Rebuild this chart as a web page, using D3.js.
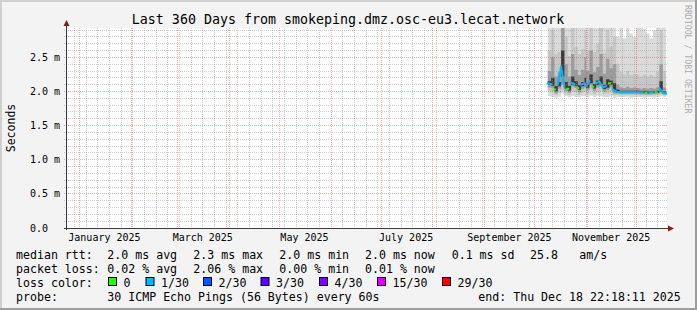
<!DOCTYPE html>
<html><head><meta charset="utf-8">
<script src="https://cdn.jsdelivr.net/npm/d3@7"></script>
<style>
html,body{margin:0;padding:0;background:#f3f3f3;}
svg{display:block;}
text{font-family:"DejaVu Sans Mono",monospace;white-space:pre;}
</style></head><body>
<svg id="chart" width="697" height="310"></svg>
<script>
// ---------- data ----------
const title = "Last 360 Days from smokeping.dmz.osc-eu3.lecat.network";
const endTime = "2025-12-18T22:18:11Z";
const spanDays = 360;
const firstStep = "2025-10-08T00:00:00Z";
const stepDays = 2;

const yTicks = [0, 0.5, 1.0, 1.5, 2.0, 2.5];
const yTickLabels = ["0.0", "0.5 m", "1.0 m", "1.5 m", "2.0 m", "2.5 m"];
const xLabelMonths = ["2025-01-01", "2025-03-01", "2025-05-01", "2025-07-01", "2025-09-01", "2025-11-01"];
const xTickLabels = ["January 2025", "March 2025", "May 2025", "July 2025", "September 2025", "November 2025"];

// median RTT (ms) per 2-day step
const median = [2.12,2.11,2.03,2.10,2.36, 2.07,2.04,2.13,2.11,2.05, 2.10,2.12,2.08,2.15,2.07, 2.12,2.14,2.06,2.08,2.12, 2.03,2.00,1.99,1.99,1.99, 1.99,1.99,1.99,1.985,1.985, 1.98,1.985,1.985,1.99,2.05, 1.98,1.97];
// smoke: ping distribution percentiles (ms)
const pingMin = [1.93,1.92,1.91,1.92,1.97, 1.93,1.92,1.93,1.92,1.92, 1.93,1.93,1.92,1.94,1.92, 1.93,1.93,1.92,1.92,1.93, 1.91,1.92,1.92,1.92,1.92, 1.91,1.92,1.92,1.92,1.91, 1.92,1.92,1.91,1.92,1.93, 1.92,1.92];
const q10 = [2.00,1.99,1.95,1.98,2.02, 1.96,1.95,2.00,1.99,1.95, 1.98,2.00,1.97,2.02,1.96, 1.99,2.01,1.96,1.97,2.00, 1.95,1.95,1.945,1.945,1.945, 1.945,1.945,1.945,1.94,1.94, 1.94,1.94,1.94,1.945,1.96, 1.94,1.94];
const q25 = [2.06,2.05,1.97,2.04,2.10, 2.01,1.98,2.07,2.05,1.99, 2.04,2.06,2.02,2.09,2.01, 2.06,2.08,2.00,2.02,2.06, 1.97,1.97,1.965,1.965,1.965, 1.965,1.965,1.965,1.96,1.96, 1.955,1.96,1.96,1.965,1.985, 1.96,1.955];
const q40 = [2.095,2.085,2.005,2.075,2.22, 2.045,2.015,2.10,2.085,2.025, 2.075,2.095,2.055,2.12,2.045, 2.095,2.11,2.035,2.055,2.095, 2.01,1.99,1.982,1.982,1.982, 1.982,1.982,1.982,1.977,1.977, 1.972,1.977,1.977,1.982,2.02, 1.972,1.962];
const q60 = [2.15,2.20,2.08,2.14,2.60, 2.14,2.08,2.22,2.15,2.09, 2.14,2.20,2.12,2.25,2.11, 2.16,2.22,2.10,2.18,2.16, 2.12,2.03,2.01,2.01,2.01, 2.01,2.01,2.01,2.005,2.005, 2.0,2.005,2.005,2.01,2.15, 2.0,1.99];
const q75 = [2.30,2.50,2.22,2.28,3.00, 2.40,2.22,2.55,2.32,2.24, 2.32,2.50,2.30,2.60,2.28, 2.36,2.55,2.26,2.48,2.34, 2.40,2.10,2.06,2.05,2.07, 2.05,2.06,2.05,2.04,2.05, 2.04,2.05,2.04,2.06,2.40, 2.06,2.04];
const q90 = [2.60,2.90,2.55,2.58,3.50, 2.80,2.52,2.95,2.65,2.55, 2.62,2.90,2.60,3.00,2.58, 2.70,2.95,2.56,2.90,2.66, 2.80,2.40,2.28,2.25,2.30, 2.24,2.26,2.25,2.22,2.25, 2.22,2.24,2.22,2.28,2.90, 2.30,2.25];
const pingMax = [3.5,3.5,3.5,3.5,3.5, 3.5,3.5,3.5,3.5,3.5, 3.5,3.5,3.5,3.5,3.5, 3.5,3.5,3.5,3.5,3.5, 3.5,2.80,2.95,2.78,3.0, 2.85,2.80,3.0,3.0,2.92, 2.85,2.78,2.9,3.0,3.5, 3.0,3.0];
// lost pings (out of 30) per step
const lossPings = [1,1,0,1,1, 1,0,1,1,0, 1,1,1,1,0, 1,1,1,1,0, 1,1,1,1,1, 1,1,1,1,1, 0,1,1,0,1, 1,1];

const lossLabels = ["0", "1/30", "2/30", "3/30", "4/30", "15/30", "29/30"];
const lossThresholds = [0, 1, 2, 3, 4, 15, 29];
const lossColors = ["#26ff00", "#00b8ff", "#0059ff", "#5e00ff", "#7e00ff", "#dd00ff", "#ff0000"];

const rttStats = ["2.0 ms avg", "2.3 ms max", "2.0 ms min", "2.0 ms now", "0.1 ms sd", "25.8", "am/s"];
const lossStats = ["0.02 % avg", "2.06 % max", "0.00 % min", "0.01 % now"];
const probeText = "30 ICMP Echo Pings (56 Bytes) every 60s";
const endText = "end: Thu Dec 18 22:18:11 2025";

// ---------- layout ----------
const W = 697, H = 310;
const X0 = 66, X1 = 666, Y0 = 228, Y1 = 28;
const yMax = 2.93;
const end = new Date(endTime);
const start = new Date(+end - spanDays * 86400000);
const t0 = new Date(firstStep);
const steps = d3.utcDay.every(stepDays).range(t0, d3.utcDay.offset(t0, stepDays * median.length)).slice(0, median.length);

const x = d3.scaleUtc().domain([start, end]).range([X0, X1]);
const y = d3.scaleLinear().domain([0, yMax]).range([Y0, Y1]);
const crisp = v => Math.floor(v) + 0.5;

const svg = d3.select("#chart");
svg.append("rect").attr("width", W).attr("height", H).attr("fill", "#f3f3f3");
svg.append("rect").attr("x", 0).attr("y", 0).attr("width", W).attr("height", 2).attr("fill", "#cfcfcf");
svg.append("rect").attr("x", 0).attr("y", 0).attr("width", 2).attr("height", H).attr("fill", "#cfcfcf");
svg.append("rect").attr("x", 0).attr("y", H - 2).attr("width", W).attr("height", 2).attr("fill", "#9e9e9e");
svg.append("rect").attr("x", W - 2).attr("y", 0).attr("width", 2).attr("height", H).attr("fill", "#9e9e9e");

// canvas
svg.append("rect").attr("x", X0).attr("y", Y1).attr("width", X1 - X0 + 1).attr("height", Y0 - Y1).attr("fill", "#ffffff");

svg.append("defs").append("clipPath").attr("id", "plotclip")
  .append("rect").attr("x", X0 + 1).attr("y", Y1).attr("width", X1 - X0).attr("height", Y0 - Y1);

const plot = svg.append("g").attr("clip-path", "url(#plotclip)");

// smoke bands
const bands = [
  {lo: pingMin, hi: pingMax, color: "#dadada"},
  {lo: q10, hi: q90, color: "#c6c6c6"},
  {lo: q25, hi: q75, color: "#9c9c9c"},
  {lo: q40, hi: q60, color: "#3c3c3c"}
];
bands.forEach(b => {
  const area = d3.area()
    .curve(d3.curveStepAfter)
    .x((d, i) => x(steps[i]))
    .y0((d, i) => y(b.lo[i]))
    .y1((d, i) => y(b.hi[i]));
  plot.append("path").datum(median).attr("d", area).attr("fill", b.color);
});

// median line coloured by loss
const cat = lossPings.map(l => { let c = 0; lossThresholds.forEach((t, j) => { if (l >= t) c = j; }); return c; });
const lineG = plot.append("g");
for (let i = 0; i < median.length - 1; i++) {
  if (cat[i] === cat[i + 1]) {
    lineG.append("line")
      .attr("x1", x(steps[i])).attr("y1", y(median[i]))
      .attr("x2", x(steps[i + 1])).attr("y2", y(median[i + 1]))
      .attr("stroke", lossColors[cat[i]]).attr("stroke-width", 2).attr("stroke-linecap", "square");
  }
}
median.forEach((m, i) => {
  const iso = (i === 0 || cat[i - 1] !== cat[i]) && (i === median.length - 1 || cat[i + 1] !== cat[i]);
  if (iso) {
    lineG.append("line")
      .attr("x1", x(steps[i]) - 1.5).attr("y1", y(m))
      .attr("x2", x(steps[i]) + 1.5).attr("y2", y(m))
      .attr("stroke", lossColors[cat[i]]).attr("stroke-width", 2);
  }
});

// grid
const grid = svg.append("g");
const monthTicks = d3.utcMonth.range(start, end);
const monthX = monthTicks.map(d => crisp(x(d)));
d3.utcSunday.range(start, end).forEach(d => {
  const xx = crisp(x(d));
  if (monthX.includes(xx)) return;
  grid.append("line").attr("x1", xx).attr("x2", xx).attr("y1", Y1).attr("y2", Y0 + 2)
    .attr("stroke", "rgba(143,143,143,0.42)").attr("stroke-dasharray", "1,1");
});
d3.range(1, Math.floor(yMax * 10) + 1).forEach(k => {
  if (k % 5 === 0) return;
  const yy = crisp(y(k / 10));
  grid.append("line").attr("x1", X0 - 2).attr("x2", X1 + 2).attr("y1", yy).attr("y2", yy)
    .attr("stroke", "rgba(143,143,143,0.42)").attr("stroke-dasharray", "1,1");
});
monthX.forEach(xx => {
  grid.append("line").attr("x1", xx).attr("x2", xx).attr("y1", Y1).attr("y2", Y0 + 2)
    .attr("stroke", "rgba(222,48,48,0.38)").attr("stroke-dasharray", "1,1");
});
yTicks.forEach(v => {
  if (v === 0) return;
  const yy = crisp(y(v));
  grid.append("line").attr("x1", X0 - 2).attr("x2", X1 + 2).attr("y1", yy).attr("y2", yy)
    .attr("stroke", "rgba(222,48,48,0.38)").attr("stroke-dasharray", "1,1");
});

// axes
const axisColor = "#3a3a3a", arrowColor = "#8b1a1a";
svg.append("line").attr("x1", X0 - 2).attr("x2", X1 + 3).attr("y1", crisp(Y0)).attr("y2", crisp(Y0)).attr("stroke", axisColor);
svg.append("line").attr("x1", crisp(X0)).attr("x2", crisp(X0)).attr("y1", Y0 + 2).attr("y2", Y1 - 3).attr("stroke", axisColor);
svg.append("path").attr("d", `M${X1 + 2},${Y0 - 2.5}L${X1 + 8},${Y0 + 0.5}L${X1 + 2},${Y0 + 3.5}Z`).attr("fill", arrowColor);
svg.append("path").attr("d", `M${X0 - 2.5},${Y1 - 2}L${X0 + 0.5},${Y1 - 8}L${X0 + 3.5},${Y1 - 2}Z`).attr("fill", arrowColor);

// y labels
yTicks.forEach((v, i) => {
  svg.append("text").attr("x", 30).attr("y", crisp(y(v)) + 3.3)
    .attr("font-size", "10px").attr("fill", "#000").text(yTickLabels[i]);
});
// x labels
xLabelMonths.forEach((m, i) => {
  const d = new Date(m + "T00:00:00Z");
  svg.append("text").attr("x", x(d3.utcDay.offset(d, 15))).attr("y", 241)
    .attr("text-anchor", "middle").attr("font-size", "10px").attr("fill", "#000").text(xTickLabels[i]);
});

// title
svg.append("text").attr("x", 348).attr("y", 24).attr("text-anchor", "middle")
  .attr("font-size", "13.3px").attr("fill", "#000").text(title);
// vertical label
svg.append("text").attr("transform", "translate(14.5,128) rotate(-90)").attr("text-anchor", "middle")
  .attr("font-size", "11.5px").attr("fill", "#000").text("Seconds");
// watermark
svg.append("text").attr("transform", "translate(684.5,5) rotate(90)")
  .attr("font-size", "8.2px").attr("fill", "#adadad").text("RRDTOOL / TOBI OETIKER");

// legend
const fs = "11.6px";
const rowY = [258.5, 272.5, 286.5, 300.5];
const leg = (xx, yy, s) => svg.append("text").attr("x", xx).attr("y", yy).attr("font-size", fs).attr("fill", "#000").text(s);
leg(16, rowY[0], "median rtt:");
const rttX = [107.3, 193.3, 279.3, 365, 451.7, 530, 579.3];
rttStats.forEach((s, i) => leg(rttX[i], rowY[0], s));
leg(16, rowY[1], "packet loss:");
lossStats.forEach((s, i) => leg(rttX[i], rowY[1], s));
leg(16, rowY[2], "loss color:");
const boxX = [108.5, 146, 203.5, 261, 319.5, 377.5, 442.5];
lossLabels.forEach((s, i) => {
  svg.append("rect").attr("x", boxX[i]).attr("y", 277.5).attr("width", 8).attr("height", 8)
    .attr("fill", lossColors[i]).attr("stroke", "#000").attr("stroke-width", 1);
  leg(boxX[i] + 15, rowY[2], s);
});
leg(16, rowY[3], "probe:");
leg(107.3, rowY[3], probeText);
leg(478.3, rowY[3], endText);
</script>
</body></html>
